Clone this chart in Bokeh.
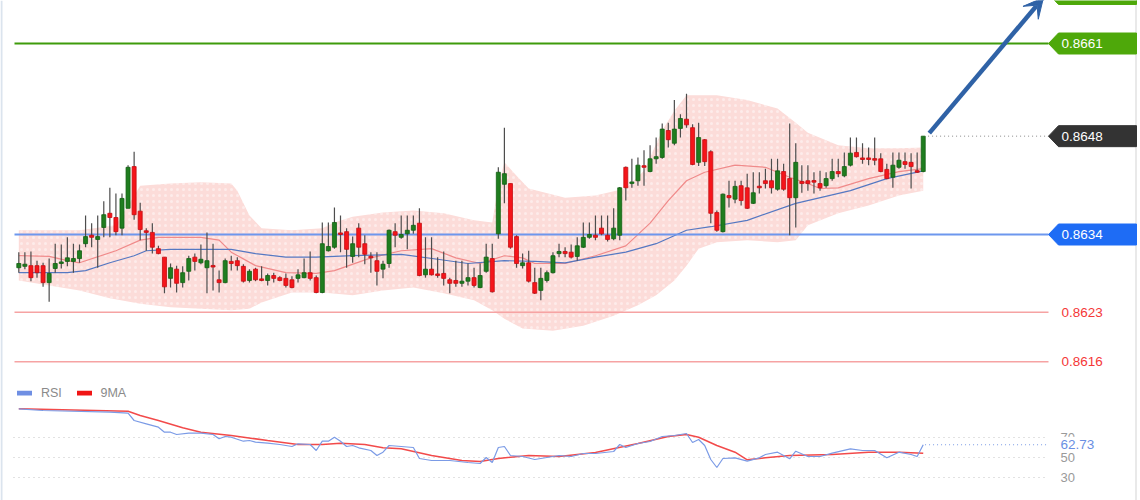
from bokeh.plotting import figure
from bokeh.models import ColumnDataSource, Range1d, Arrow, VeeHead
from bokeh.core.properties import value
from bokeh.embed import file_html
from bokeh.resources import INLINE

# ---------------- data ----------------
opens = [0.86293, 0.86295, 0.86296, 0.86296, 0.86296, 0.86272, 0.86292, 0.86299, 0.86302, 0.86302,
         0.86306, 0.86327, 0.86339, 0.86333, 0.86350, 0.86370, 0.86364, 0.86349, 0.86377, 0.86436,
         0.86373, 0.86344, 0.86343, 0.86320, 0.86308, 0.86278, 0.86291, 0.86272, 0.86288, 0.86308,
         0.86300, 0.86293, 0.86295, 0.86276, 0.86272, 0.86302, 0.86303, 0.86295, 0.86275, 0.86291,
         0.86276, 0.86275, 0.86282, 0.86279, 0.86278, 0.86276, 0.86278, 0.86279, 0.86286, 0.86279,
         0.86258, 0.86317, 0.86322, 0.86341, 0.86344, 0.86309, 0.86349, 0.86327, 0.86308, 0.86303,
         0.86291, 0.86299, 0.86344, 0.86336, 0.86341, 0.86346, 0.86356, 0.86283, 0.86291, 0.86283,
         0.86285, 0.86276, 0.86275, 0.86271, 0.86274, 0.86279, 0.86265, 0.86288, 0.86306, 0.86341,
         0.86411, 0.86412, 0.86337, 0.86296, 0.86300, 0.86272, 0.86261, 0.86275, 0.86286, 0.86313,
         0.86316, 0.86315, 0.86309, 0.86322, 0.86336, 0.86339, 0.86349, 0.86339, 0.86334, 0.86339,
         0.86435, 0.86412, 0.86416, 0.86436, 0.86429, 0.86447, 0.86449, 0.86487, 0.86469, 0.86490,
         0.86503, 0.86491, 0.86442, 0.86474, 0.86457, 0.86371, 0.86344, 0.86395, 0.86390, 0.86409,
         0.86406, 0.86384, 0.86408, 0.86416, 0.86416, 0.86404, 0.86429, 0.86419, 0.86392, 0.86415,
         0.86416, 0.86415, 0.86412, 0.86409, 0.86419, 0.86429, 0.86423, 0.86438, 0.86456, 0.86447,
         0.86447, 0.86447, 0.86447, 0.86432, 0.86421, 0.86435, 0.86443, 0.86442, 0.86429, 0.86429]

highs = [0.86315, 0.86315, 0.86316, 0.86303, 0.86300, 0.86306, 0.86327, 0.86326, 0.86336, 0.86327,
         0.86326, 0.86367, 0.86356, 0.86367, 0.86387, 0.86406, 0.86398, 0.86398, 0.86438, 0.86457,
         0.86385, 0.86349, 0.86356, 0.86324, 0.86308, 0.86299, 0.86296, 0.86295, 0.86310, 0.86313,
         0.86326, 0.86343, 0.86327, 0.86289, 0.86306, 0.86310, 0.86308, 0.86298, 0.86291, 0.86293,
         0.86295, 0.86285, 0.86286, 0.86281, 0.86285, 0.86281, 0.86291, 0.86306, 0.86316, 0.86282,
         0.86357, 0.86357, 0.86378, 0.86367, 0.86349, 0.86337, 0.86356, 0.86339, 0.86315, 0.86315,
         0.86303, 0.86347, 0.86356, 0.86367, 0.86367, 0.86367, 0.86377, 0.86336, 0.86336, 0.86308,
         0.86316, 0.86279, 0.86303, 0.86303, 0.86299, 0.86293, 0.86299, 0.86327, 0.86327, 0.86435,
         0.86491, 0.86412, 0.86339, 0.86313, 0.86317, 0.86293, 0.86293, 0.86289, 0.86315, 0.86327,
         0.86322, 0.86326, 0.86336, 0.86357, 0.86357, 0.86367, 0.86367, 0.86367, 0.86377, 0.86407,
         0.86436, 0.86447, 0.86449, 0.86459, 0.86466, 0.86477, 0.86497, 0.86498, 0.86530, 0.86510,
         0.86539, 0.86496, 0.86498, 0.86475, 0.86459, 0.86374, 0.86398, 0.86416, 0.86416, 0.86416,
         0.86426, 0.86428, 0.86428, 0.86433, 0.86447, 0.86447, 0.86440, 0.86497, 0.86469, 0.86438,
         0.86438, 0.86428, 0.86430, 0.86428, 0.86447, 0.86447, 0.86456, 0.86477, 0.86477, 0.86469,
         0.86463, 0.86477, 0.86455, 0.86440, 0.86456, 0.86456, 0.86456, 0.86455, 0.86456, 0.86479]

lows = [0.86286, 0.86291, 0.86274, 0.86279, 0.86266, 0.86245, 0.86286, 0.86292, 0.86295, 0.86286,
        0.86300, 0.86322, 0.86322, 0.86293, 0.86336, 0.86336, 0.86339, 0.86339, 0.86377, 0.86361,
        0.86332, 0.86317, 0.86313, 0.86312, 0.86257, 0.86265, 0.86258, 0.86265, 0.86275, 0.86289,
        0.86298, 0.86257, 0.86261, 0.86258, 0.86271, 0.86289, 0.86289, 0.86272, 0.86272, 0.86274,
        0.86274, 0.86268, 0.86272, 0.86274, 0.86265, 0.86264, 0.86272, 0.86278, 0.86275, 0.86257,
        0.86257, 0.86316, 0.86320, 0.86315, 0.86293, 0.86300, 0.86308, 0.86298, 0.86286, 0.86268,
        0.86278, 0.86293, 0.86322, 0.86334, 0.86319, 0.86341, 0.86281, 0.86279, 0.86282, 0.86279,
        0.86268, 0.86257, 0.86266, 0.86266, 0.86268, 0.86265, 0.86264, 0.86286, 0.86258, 0.86334,
        0.86384, 0.86320, 0.86293, 0.86292, 0.86272, 0.86256, 0.86247, 0.86272, 0.86285, 0.86308,
        0.86308, 0.86306, 0.86303, 0.86321, 0.86334, 0.86332, 0.86339, 0.86330, 0.86332, 0.86332,
        0.86388, 0.86406, 0.86409, 0.86409, 0.86428, 0.86440, 0.86447, 0.86463, 0.86466, 0.86477,
        0.86491, 0.86438, 0.86437, 0.86437, 0.86356, 0.86344, 0.86343, 0.86378, 0.86384, 0.86381,
        0.86376, 0.86383, 0.86398, 0.86405, 0.86398, 0.86402, 0.86402, 0.86339, 0.86350, 0.86399,
        0.86402, 0.86398, 0.86402, 0.86406, 0.86416, 0.86421, 0.86421, 0.86436, 0.86449, 0.86440,
        0.86438, 0.86438, 0.86428, 0.86418, 0.86406, 0.86433, 0.86433, 0.86405, 0.86427, 0.86428]

closes = [0.86299, 0.86298, 0.86279, 0.86286, 0.86272, 0.86285, 0.86299, 0.86300, 0.86307, 0.86306,
          0.86317, 0.86337, 0.86336, 0.86337, 0.86368, 0.86364, 0.86344, 0.86391, 0.86435, 0.86368,
          0.86347, 0.86343, 0.86322, 0.86313, 0.86266, 0.86293, 0.86271, 0.86286, 0.86306, 0.86302,
          0.86305, 0.86303, 0.86294, 0.86272, 0.86303, 0.86299, 0.86296, 0.86274, 0.86288, 0.86276,
          0.86275, 0.86282, 0.86278, 0.86275, 0.86268, 0.86265, 0.86283, 0.86286, 0.86278, 0.86258,
          0.86327, 0.86323, 0.86357, 0.86340, 0.86319, 0.86327, 0.86322, 0.86312, 0.86307, 0.86288,
          0.86298, 0.86346, 0.86339, 0.86340, 0.86346, 0.86353, 0.86282, 0.86291, 0.86283, 0.86282,
          0.86278, 0.86271, 0.86271, 0.86274, 0.86279, 0.86268, 0.86282, 0.86308, 0.86259, 0.86428,
          0.86426, 0.86322, 0.86299, 0.86300, 0.86274, 0.86257, 0.86278, 0.86286, 0.86310, 0.86316,
          0.86313, 0.86308, 0.86324, 0.86336, 0.86340, 0.86336, 0.86341, 0.86333, 0.86349, 0.86406,
          0.86406, 0.86414, 0.86438, 0.86435, 0.86447, 0.86450, 0.86489, 0.86474, 0.86489, 0.86504,
          0.86495, 0.86439, 0.86477, 0.86443, 0.86370, 0.86346, 0.86397, 0.86392, 0.86408, 0.86388,
          0.86377, 0.86399, 0.86406, 0.86412, 0.86406, 0.86430, 0.86404, 0.86392, 0.86442, 0.86412,
          0.86412, 0.86414, 0.86406, 0.86419, 0.86429, 0.86426, 0.86436, 0.86455, 0.86450, 0.86446,
          0.86446, 0.86445, 0.86429, 0.86419, 0.86438, 0.86445, 0.86439, 0.86436, 0.86428, 0.86479]

# Bollinger envelope (sampled at candle indices)
upper_idx = [0, 10, 16, 18, 20, 25, 30, 35, 36, 38, 40, 45, 50, 52, 55, 60, 65, 70, 75, 78, 79, 80,
             82, 84, 90, 95, 100, 103, 106, 108, 110, 115, 120, 125, 128, 130, 135, 140, 145, 149]
upper_band = [0.86346, 0.86346, 0.86353, 0.86381, 0.86409, 0.86412, 0.86414, 0.86412, 0.86402, 0.86367,
              0.86349, 0.86346, 0.86349, 0.86357, 0.86365, 0.86371, 0.86374, 0.86370, 0.86360, 0.86357,
              0.86409, 0.86442, 0.86423, 0.86405, 0.86392, 0.86395, 0.86405, 0.86430, 0.86487, 0.86515,
              0.86537, 0.86537, 0.86530, 0.86518, 0.86498, 0.86484, 0.86466, 0.86462, 0.86462, 0.86463]
lower_idx = [0, 5, 10, 15, 20, 25, 30, 35, 38, 40, 45, 50, 55, 60, 65, 70, 75, 78, 80, 83, 88, 93,
             98, 102, 105, 108, 110, 112, 115, 120, 125, 128, 130, 135, 140, 145, 149]
lower_band = [0.86275, 0.86268, 0.86261, 0.86250, 0.86242, 0.86237, 0.86235, 0.86233, 0.86235, 0.86244,
              0.86258, 0.86258, 0.86254, 0.86261, 0.86265, 0.86257, 0.86247, 0.86233, 0.86221, 0.86207,
              0.86204, 0.86211, 0.86225, 0.86240, 0.86254, 0.86275, 0.86296, 0.86320, 0.86329, 0.86332,
              0.86329, 0.86332, 0.86353, 0.86370, 0.86381, 0.86395, 0.86402]

# moving averages on price
ma_red_idx = [0, 5, 8, 10, 16, 20, 23, 30, 33, 35, 39, 44, 49, 52, 58, 63, 68, 72, 76, 80, 83, 85,
              90, 95, 100, 104, 107, 110, 113, 118, 123, 127, 130, 132, 135, 140, 145, 149]
ma_red = [0.86310, 0.86309, 0.86303, 0.86300, 0.86317, 0.86332, 0.86336, 0.86336, 0.86332, 0.86315,
          0.86296, 0.86286, 0.86285, 0.86289, 0.86307, 0.86317, 0.86320, 0.86307, 0.86299, 0.86310,
          0.86307, 0.86299, 0.86299, 0.86310, 0.86324, 0.86356, 0.86388, 0.86416, 0.86428, 0.86438,
          0.86435, 0.86421, 0.86412, 0.86405, 0.86406, 0.86419, 0.86429, 0.86433]
ma_blue_idx = [0, 8, 11, 15, 19, 21, 25, 35, 39, 44, 49, 55, 63, 69, 74, 80, 85, 90, 95, 100, 105,
               110, 114, 120, 128, 131, 137, 143, 149]
ma_blue = [0.86286, 0.86286, 0.86289, 0.86300, 0.86310, 0.86317, 0.86319, 0.86319, 0.86313, 0.86308,
           0.86308, 0.86310, 0.86312, 0.86305, 0.86299, 0.86303, 0.86302, 0.86300, 0.86308, 0.86315,
           0.86327, 0.86346, 0.86351, 0.86360, 0.86384, 0.86390, 0.86402, 0.86419, 0.86430]

# key levels (the first one sits above the visible area; only its tag's lower edge shows)
resistance_levels = [0.8668, 0.8661]
pivot_level = 0.8634
support_levels = [0.8623, 0.8616]

# RSI panel
rsi_idx = [0, 4, 15, 18, 19, 21, 23, 24, 25, 26, 28, 30, 32, 33, 34, 35, 37, 38, 39, 41, 43, 45,
           46, 48, 49, 50, 51, 52, 53, 54, 55, 56, 58, 59, 60, 61, 63, 65, 66, 68, 71, 74, 76, 77,
           78, 79, 80, 81, 83, 85, 87, 89, 91, 93, 95, 98, 99, 100, 102, 104, 106, 108, 110, 111,
           112, 113, 114, 115, 116, 118, 120, 122, 123, 125, 127, 128, 130, 132, 134, 137, 139,
           141, 143, 145, 147, 148, 149]
rsi_vals = [98.7, 97, 95.3, 94.3, 87, 83.7, 80.3, 75.3, 75.3, 73, 74.3, 74.3, 73, 68.7, 71, 70.3,
            66.3, 67, 65.3, 64.3, 63, 61, 63.7, 63, 57, 66.3, 66.3, 70.3, 66.3, 61, 62, 59.7, 57, 52,
            55.3, 62, 61, 60, 49, 47, 47, 45, 44, 50, 45, 60, 61, 52, 51, 48, 50, 52, 51, 54, 54, 56,
            63, 60, 64, 66, 71, 72, 74, 65, 68, 62, 48, 40, 49, 49.7, 46.3, 49.7, 53, 55.3, 48.7,
            56.3, 51, 51, 54.3, 58.7, 57, 57, 49.7, 55.3, 53, 51, 62.73]
ma9_idx = [0, 18, 20, 23, 27, 30, 35, 41, 46, 50, 53, 57, 60, 63, 68, 73, 76, 79, 84, 89, 95, 102,
           107, 110, 112, 115, 118, 120, 123, 127, 134, 140, 145, 149]
ma9_vals = [98.7, 96.3, 92, 87, 79.7, 75.3, 72, 67, 63, 63, 64.3, 63, 59.7, 58.7, 52, 47, 46, 49,
            52, 51, 55, 64, 71, 73, 70.3, 62, 55.3, 47.7, 49.7, 52, 53, 55.3, 55.3, 54.3]
rsi_ticks = [70, 50, 30]

# ---------------- geometry helpers (screen layout) ----------------
W, H = 1140, 500
X0_PX, STEP_PX = 18.3, 6.07          # first candle position / candle spacing in px
P_REF, Y_REF_PX, PX_PER_UNIT = 0.8634, 234.0, 70740.0
RSI70_PX = 437.0                     # rsi scale: 1 px per point


def xd(px):
    return (px - X0_PX) / STEP_PX


def yd(py):
    return P_REF + (Y_REF_PX - py) / PX_PER_UNIT


def rd(py):
    return 70 + (RSI70_PX - py)


PX = 1.0 / PX_PER_UNIT
FONT = value("Liberation Sans")

p = figure(width=W, height=H, x_range=Range1d(xd(0), xd(W)), y_range=Range1d(yd(H), yd(0)),
           x_axis_type=None, y_axis_type=None, toolbar_location=None, output_backend="svg",
           min_border=0, outline_line_color=None)
p.extra_y_ranges = {"rsi": Range1d(rd(H), rd(0))}
p.background_fill_color = "white"
p.border_fill_color = "white"

# frame edges
p.segment(x0=[xd(1)], x1=[xd(1)], y0=[yd(0)], y1=[yd(H)], line_color="#dbe4ee", line_width=2)
p.segment(x0=[xd(1135.5)], x1=[xd(1135.5)], y0=[yd(0)], y1=[yd(H)], line_color="#e2e2e2", line_width=1.5)

# Bollinger envelope
p.patch(upper_idx + lower_idx[::-1], upper_band + lower_band[::-1], fill_color="#fcdcd9",
        line_color=None, hatch_pattern=".", hatch_color="white", hatch_scale=6, hatch_alpha=0.45,
        hatch_weight=1)

# moving averages
p.line(ma_red_idx, ma_red, line_color="#f08a8a", line_width=1.2)
p.line(ma_blue_idx, ma_blue, line_color="#5578c2", line_width=1.2)

# level lines
x_left, x_right = xd(14), xd(1048)
p.segment(x0=[x_left], x1=[x_right], y0=[resistance_levels[1]], y1=[resistance_levels[1]],
          line_color="#3f9b0b", line_width=2)
p.segment(x0=[x_left], x1=[x_right], y0=[pivot_level], y1=[pivot_level],
          line_color="#6d97ee", line_width=2.2)
p.segment(x0=[x_left] * 2, x1=[x_right] * 2, y0=support_levels, y1=support_levels,
          line_color="#f6a3a3", line_width=1.5)

# candles
n = len(closes)
idx = list(range(n))
min_body = 1.6 * PX
body_bottom = [min(o, c) for o, c in zip(opens, closes)]
body_top = [max(max(o, c), b + min_body) for o, c, b in zip(opens, closes, body_bottom)]
up = [c >= o for o, c in zip(opens, closes)]
src = ColumnDataSource(dict(x=idx, high=highs, low=lows, top=body_top, bottom=body_bottom,
                            fill=["#1f7d1f" if u else "#f5151a" for u in up],
                            edge=["#125f12" if u else "#c40d12" for u in up]))
p.segment(x0="x", x1="x", y0="low", y1="high", source=src, line_color="#4d4d4d", line_width=1.2)
p.vbar(x="x", width=0.66, top="top", bottom="bottom", fill_color="fill", line_color="edge",
       line_width=0.8, source=src)

# last price dotted guide
last = closes[-1]
p.segment(x0=[n - 0.2], x1=[xd(1048)], y0=[last], y1=[last], line_color="#8a8a8a",
          line_width=1, line_dash="1 3")


def tag(level, x0=1048, tip=10, x1=1136, half=10.5):
    xs = [xd(x0), xd(x0 + tip), xd(x1), xd(x1), xd(x0 + tip)]
    ys = [level, level + half * PX, level + half * PX, level - half * PX, level - half * PX]
    return xs, ys


tags = [(resistance_levels[0], "#4ea80a"), (resistance_levels[1], "#4ea80a"),
        (last, "#333333"), (pivot_level, "#1e6cf5")]
txs, tys, tcols = [], [], []
for lvl, col in tags:
    a, b = tag(lvl)
    txs.append(a)
    tys.append(b)
    tcols.append(col)
p.patches(txs, tys, fill_color=tcols, line_color=tcols)

# tag texts for the levels whose tags are on screen
tag_levels = [resistance_levels[1], last, pivot_level]
p.text(x=[xd(1061)] * len(tag_levels), y=tag_levels, text=[f"{v:.4f}" for v in tag_levels],
       text_color="white", text_font=FONT, text_font_size="13.5px", text_baseline="middle",
       text_align="left")
p.text(x=[xd(1061)] * len(support_levels), y=support_levels,
       text=[f"{v:.4f}" for v in support_levels], text_color="#f53838", text_font=FONT,
       text_font_size="13.5px", text_baseline="middle", text_align="left")

# forecast arrow
arrow_col = "#2f62a6"
p.add_layout(Arrow(end=VeeHead(size=20, fill_color=arrow_col, line_color=arrow_col, line_width=1),
                   x_start=n, y_start=last + 3 * PX, x_end=xd(1043), y_end=yd(-3),
                   line_color=arrow_col, line_width=4.5))

# ---------------- RSI panel ----------------
p.segment(x0=[xd(13)] * 3, x1=[xd(1046)] * 3, y0=rsi_ticks, y1=rsi_ticks, y_range_name="rsi",
          line_color="#c4c4c4", line_width=1, line_dash="1 4")
p.line(ma9_idx, ma9_vals, y_range_name="rsi", line_color="#f02a2a", line_width=1.5, line_alpha=0.85)
p.line(rsi_idx, rsi_vals, y_range_name="rsi", line_color="#7b9be6", line_width=1.2)
p.segment(x0=[rsi_idx[-1] + 0.3], x1=[xd(1047)], y0=[rsi_vals[-1]], y1=[rsi_vals[-1]],
          y_range_name="rsi", line_color="#7b9be6", line_width=1.2, line_dash="1 3")

p.text(x=[xd(1060)] * 3, y=rsi_ticks, text=[str(t) for t in rsi_ticks], y_range_name="rsi",
       text_color="#9a9a9a", text_font=FONT, text_font_size="13px", text_baseline="middle",
       text_align="left")
p.quad(left=[xd(1052)], right=[xd(1130)], top=[rd(436.2)], bottom=[rd(451)], y_range_name="rsi",
       fill_color="white", line_color=None)
p.text(x=[xd(1060)], y=[rsi_vals[-1]], text=[f"{rsi_vals[-1]:.2f}"], y_range_name="rsi",
       text_color="#6a8fe3", text_font=FONT, text_font_size="13.5px", text_baseline="middle",
       text_align="left")

# legend
p.quad(left=[xd(16.5), xd(76.5)], right=[xd(31.5), xd(91.5)], top=[rd(390.3)] * 2,
       bottom=[rd(395)] * 2, y_range_name="rsi", fill_color=["#6f8fe3", "#f01515"], line_color=None)
p.text(x=[xd(40.5), xd(100)], y=[rd(392.8)] * 2, text=["RSI", "9MA"], y_range_name="rsi",
       text_color="#8a8a8a", text_font=FONT, text_font_size="12.5px", text_baseline="middle",
       text_align="left")

open("out.html", "w").write(file_html(p, INLINE))
